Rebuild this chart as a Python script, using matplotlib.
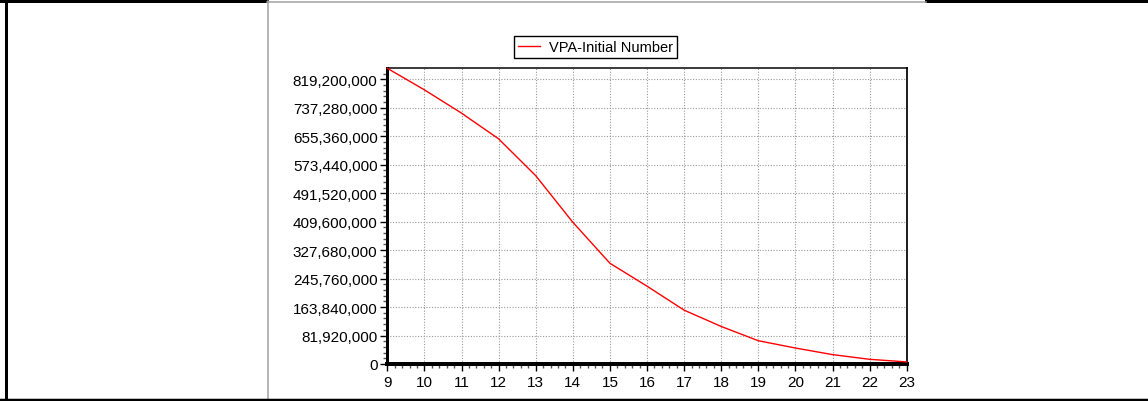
import matplotlib
matplotlib.use("Agg")
import matplotlib.pyplot as plt
from matplotlib.lines import Line2D
from matplotlib.ticker import FuncFormatter, MultipleLocator, AutoMinorLocator

plt.rcParams['font.family'] = ['Liberation Sans', 'DejaVu Sans']

ages = [9, 10, 11, 12, 13, 14, 15, 16, 17, 18, 19, 20, 21, 22, 23]
initial_number = [851e6, 789e6, 722e6, 648e6, 542e6, 408e6, 290e6, 224e6,
                  155e6, 108e6, 67e6, 46e6, 27e6, 13.5e6, 6e6]
series_label = "VPA-Initial Number"
y_step = 81_920_000

W, H = 1148, 402
fig = plt.figure(figsize=(W / 100, H / 100), dpi=100)

def fx(px):
    return px / W

def fy(py):
    return 1 - py / H

# page/table frame lines
px2pt = 72 / 100
fig.add_artist(Line2D([fx(0), fx(267)], [fy(1.5), fy(1.5)], color='black', lw=3 * px2pt))
fig.add_artist(Line2D([fx(926), fx(1148)], [fy(1.5), fy(1.5)], color='black', lw=3 * px2pt))
fig.add_artist(Line2D([fx(267), fx(926)], [fy(2.5), fy(2.5)], color='#a0a0a0', lw=1.5 * px2pt))
fig.add_artist(Line2D([fx(267.5), fx(267.5)], [fy(2), fy(400)], color='#a0a0a0', lw=1.5 * px2pt))
fig.add_artist(Line2D([fx(6), fx(6)], [fy(0), fy(402)], color='black', lw=3 * px2pt))
fig.add_artist(Line2D([fx(0), fx(1148)], [fy(400.5), fy(400.5)], color='black', lw=2.5 * px2pt))

left, right, top, bottom = 387.3, 906.7, 69.3, 365
ax = fig.add_axes([fx(left), fy(bottom), fx(right - left), (bottom - top) / H])

ax.plot(ages, initial_number, color='#ff0000', lw=1.0, label=series_label, clip_on=False, zorder=5)

ax.set_xlim(ages[0], ages[-1])
ax.set_ylim(0, max(initial_number))
ax.xaxis.set_major_locator(MultipleLocator(1))
ax.xaxis.set_minor_locator(AutoMinorLocator(5))
ax.yaxis.set_major_locator(MultipleLocator(y_step))
ax.yaxis.set_minor_locator(AutoMinorLocator(5))
ax.yaxis.set_major_formatter(FuncFormatter(lambda v, p: f"{int(round(v)):,}"))

ax.grid(True, which='major', color='#999999', linestyle=(0, (1, 1.5)), lw=0.8)

ax.tick_params(axis='both', which='major', direction='out', length=5, width=1,
               labelsize=11, colors='black', pad=2)
ax.tick_params(axis='x', which='major', pad=3)
ax.tick_params(axis='both', which='minor', direction='out', length=3, width=1, color='#555555')

ax.spines['left'].set_linewidth(3 * px2pt)
ax.spines['bottom'].set_linewidth(4 * px2pt)
ax.spines['top'].set_linewidth(1.5 * px2pt)
ax.spines['right'].set_linewidth(2 * px2pt)
ax.spines['right'].set_color('#222222')

leg = ax.legend(loc='center', bbox_to_anchor=(fx(595.5), fy(48)), bbox_transform=fig.transFigure,
                frameon=True, fancybox=False, edgecolor='black', framealpha=1,
                fontsize=10.5, handlelength=1.5, handletextpad=0.6, borderpad=0.3,
                borderaxespad=0)
leg.get_frame().set_linewidth(1.0)

fig.savefig("out.png", dpi=100)
